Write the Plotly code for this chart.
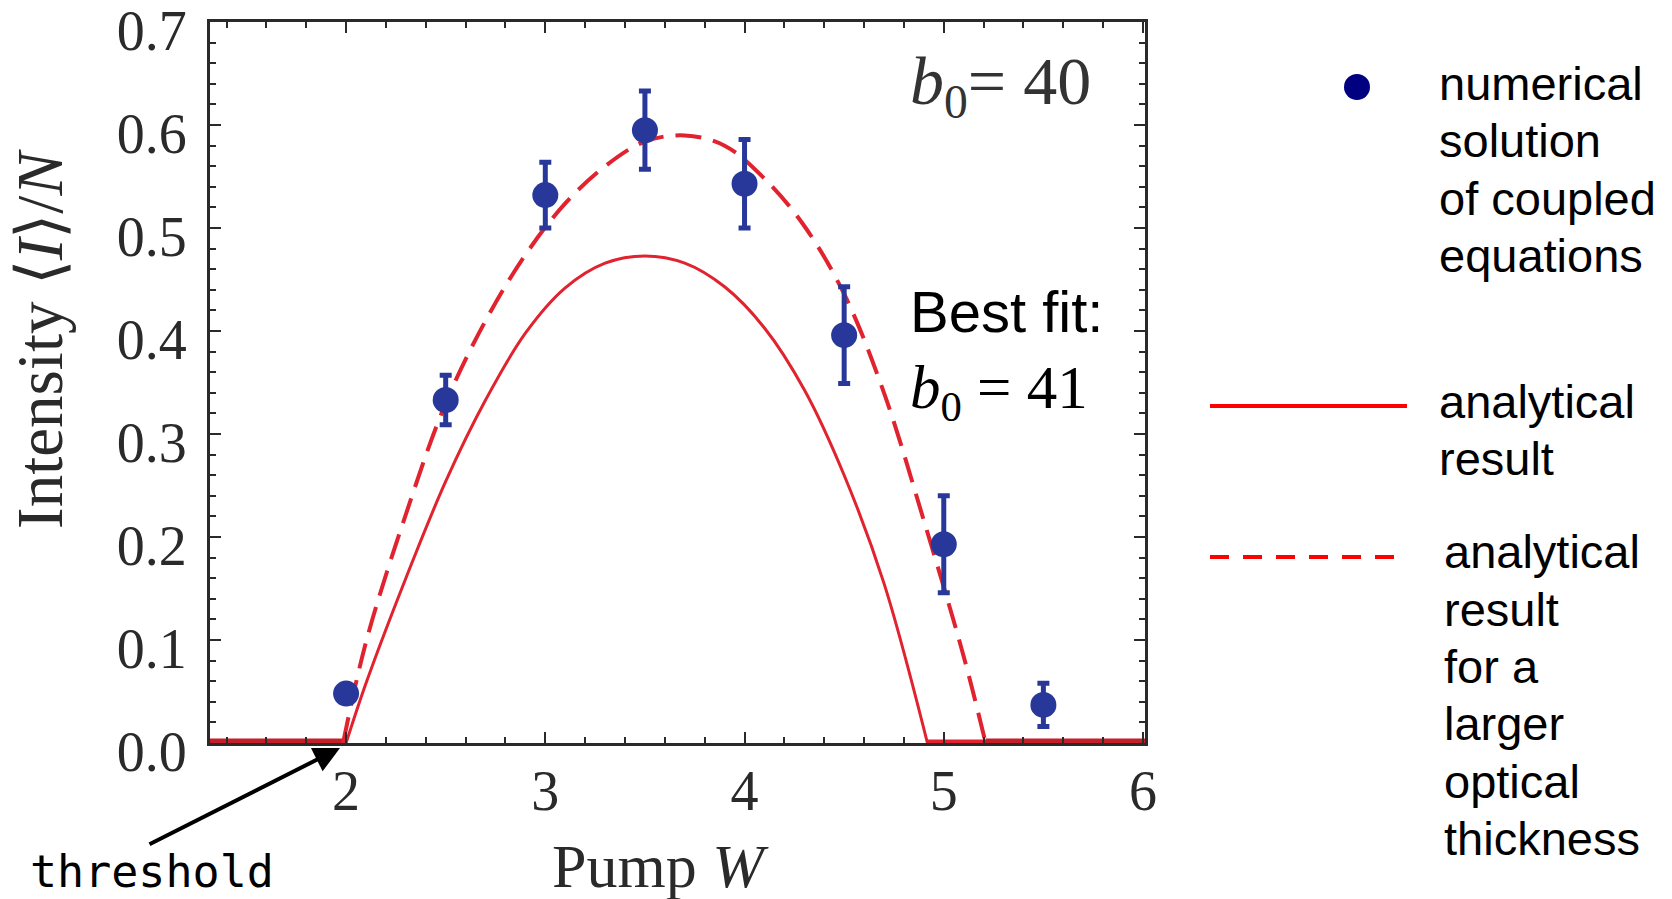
import plotly.graph_objects as go

# ---------------- data ----------------
W_num = [2.0, 2.5, 3.0, 3.5, 4.0, 4.5, 5.0, 5.5]
I_num = [0.048, 0.333, 0.532, 0.595, 0.543, 0.396, 0.193, 0.037]
I_err = [0.004, 0.024, 0.032, 0.038, 0.043, 0.047, 0.047, 0.021]

# analytical result (solid)
W_sol = [2.0, 2.1, 2.3, 2.5, 2.7, 2.9, 3.1, 3.3, 3.5, 3.7, 3.9, 4.1, 4.3, 4.5, 4.7, 4.918]
I_sol = [0.0, 0.058, 0.160, 0.254, 0.333, 0.398, 0.442, 0.466, 0.473, 0.466, 0.443, 0.403, 0.343, 0.260, 0.155, 0.0]
W_sol_zero_left = [1.317, 2.0]
W_sol_zero_right = [4.918, 6.01]
I_zero = [0.0, 0.0]

# analytical result for a larger optical thickness (dashed)
W_dash = [1.985, 2.1, 2.3, 2.5, 2.7, 2.9, 3.1, 3.3, 3.5, 3.7, 3.9, 4.1, 4.3, 4.5, 4.7, 4.9, 5.1, 5.21]
I_dash = [0.0, 0.098, 0.222, 0.330, 0.410, 0.474, 0.524, 0.560, 0.584, 0.590, 0.580, 0.548, 0.502, 0.436, 0.340, 0.216, 0.084, 0.0]
W_dash_zero_left = [1.317, 1.985]
W_dash_zero_right = [5.21, 6.01]

x_range = [1.317, 6.01]
y_range = [0.0, 0.7001]
y_ticks = [0.0, 0.1, 0.2, 0.3, 0.4, 0.5, 0.6, 0.7]
y_ticktext = ["0.0", "0.1", "0.2", "0.3", "0.4", "0.5", "0.6", "0.7"]

legend_num = ["numerical", "solution", "of coupled", "equations"]
legend_sol = ["analytical", "result"]
legend_dash = ["analytical", "result", "for a", "larger", "optical", "thickness"]

# ---------------- layout geometry ----------------
FW, FH = 1672, 899
L, R, T, B = 210, 1145, 22, 743


def px_x(px):
    return (px - L) / (R - L)


def px_y(py):
    return (B - py) / (B - T)


RED = "#e0232e"
BLUE = "#28389a"
AXC = "#2a2a2a"
SERIF = "Liberation Serif"
SANS = "Liberation Sans"

fig = go.Figure()

# zero segments (half hidden under the bottom axis, like the reference)
for xs in (W_sol_zero_left, W_sol_zero_right):
    fig.add_trace(go.Scatter(x=xs, y=I_zero, mode="lines",
                             line=dict(color=RED, width=7), showlegend=False, hoverinfo="skip"))
for xs in (W_dash_zero_left, W_dash_zero_right):
    fig.add_trace(go.Scatter(x=xs, y=I_zero, mode="lines",
                             line=dict(color="#c41e28", width=9), showlegend=False, hoverinfo="skip"))

fig.add_trace(go.Scatter(x=W_sol, y=I_sol, mode="lines",
                         line=dict(color=RED, width=3, shape="spline", smoothing=1.0),
                         showlegend=False, name="analytical result"))
fig.add_trace(go.Scatter(x=W_dash, y=I_dash, mode="lines",
                         line=dict(color=RED, width=4, dash="26px,12px", shape="spline", smoothing=1.0),
                         showlegend=False, name="analytical result, larger optical thickness"))

fig.add_trace(go.Scatter(x=W_num, y=I_num, mode="markers",
                         marker=dict(color=BLUE, size=26),
                         error_y=dict(type="data", array=I_err, visible=True,
                                      color=BLUE, thickness=5, width=6),
                         showlegend=False, name="numerical solution"))

axis_common = dict(
    showline=True, linecolor=AXC, linewidth=3, mirror="ticks",
    ticks="inside", ticklen=11, tickwidth=2, tickcolor=AXC,
    showgrid=False, zeroline=False, ticklabeloverflow="allow", automargin=False,
    tickfont=dict(family=SERIF, size=56, color=AXC),
)

fig.update_xaxes(range=x_range, tickmode="linear", tick0=0, dtick=1,
                 minor=dict(ticks="inside", dtick=0.2, tick0=0, ticklen=6, tickwidth=2,
                            tickcolor=AXC, showgrid=False),
                 ticklabelstandoff=-3, **axis_common)
fig.update_yaxes(range=y_range, tickmode="array", tickvals=y_ticks, ticktext=y_ticktext,
                 minor=dict(ticks="inside", dtick=0.02, tick0=0, ticklen=6, tickwidth=2,
                            tickcolor=AXC, showgrid=False),
                 ticklabelstandoff=9, ticklabelshift=8, **axis_common)

annotations = []
# axis titles
annotations.append(dict(text="Intensity \u27e8<i>I</i>\u27e9/<i>N</i>", textangle=-90,
                        xref="paper", yref="paper", x=px_x(40), y=px_y(339),
                        xanchor="center", yanchor="middle", showarrow=False,
                        font=dict(family=SERIF, size=65, color=AXC)))
annotations.append(dict(text="Pump <i>W</i>", xref="paper", yref="paper",
                        x=px_x(660), y=px_y(866), xanchor="center", yanchor="middle",
                        showarrow=False, font=dict(family=SERIF, size=62, color=AXC)))
# in-plot labels
annotations.append(dict(text="<i>b</i><sub>0</sub>= 40", xref="paper", yref="paper",
                        x=px_x(908), y=px_y(86), xanchor="left", yanchor="middle",
                        showarrow=False, font=dict(family=SERIF, size=68, color="#333333")))
annotations.append(dict(text="Best fit:", xref="paper", yref="paper",
                        x=px_x(908), y=px_y(311), xanchor="left", yanchor="middle",
                        showarrow=False, font=dict(family=SANS, size=58, color="black")))
annotations.append(dict(text="<i>b</i><sub>0</sub> = 41", xref="paper", yref="paper",
                        x=px_x(908), y=px_y(392), xanchor="left", yanchor="middle",
                        showarrow=False, font=dict(family=SERIF, size=61, color="black")))
# threshold label and arrow
annotations.append(dict(text="threshold", xref="paper", yref="paper",
                        x=px_x(152), y=px_y(871), xanchor="center", yanchor="middle",
                        showarrow=False, font=dict(family="DejaVu Sans Mono", size=45, color="black")))
annotations.append(dict(text="", xref="paper", yref="paper", x=px_x(340), y=px_y(748),
                        axref="pixel", ayref="pixel", ax=148 - 340, ay=845 - 748, showarrow=True,
                        arrowhead=2, arrowsize=1.3, arrowwidth=4, arrowcolor="black", standoff=0))

# custom legend texts
LFS = 47
for lines, baselines, xleft in ((legend_num, [100, 157, 215, 272], 1437),
                                (legend_sol, [418, 475], 1437),
                                (legend_dash, [568, 626, 683, 740, 798, 855], 1442)):
    for txt, bl in zip(lines, baselines):
        annotations.append(dict(text=txt, xref="paper", yref="paper",
                                x=px_x(xleft), y=px_y(bl - 0.347 * LFS),
                                xanchor="left", yanchor="middle", showarrow=False,
                                font=dict(family=SANS, size=LFS, color="black")))

shapes = [
    dict(type="circle", xref="paper", yref="paper",
         x0=px_x(1344), x1=px_x(1370), y0=px_y(100), y1=px_y(74),
         fillcolor="#000080", line=dict(width=0)),
    dict(type="line", xref="paper", yref="paper",
         x0=px_x(1210), x1=px_x(1407), y0=px_y(406), y1=px_y(406),
         line=dict(color="#ff0000", width=4)),
    dict(type="line", xref="paper", yref="paper",
         x0=px_x(1210), x1=px_x(1407), y0=px_y(557), y1=px_y(557),
         line=dict(color="#ff0000", width=4, dash="19px,14px")),
]

fig.update_layout(
    width=FW, height=FH, autosize=False,
    margin=dict(l=L, r=FW - R, t=T, b=FH - B, autoexpand=False),
    paper_bgcolor="white", plot_bgcolor="white",
    annotations=annotations, shapes=shapes,
    showlegend=False,
)

fig.write_html("out.html")
